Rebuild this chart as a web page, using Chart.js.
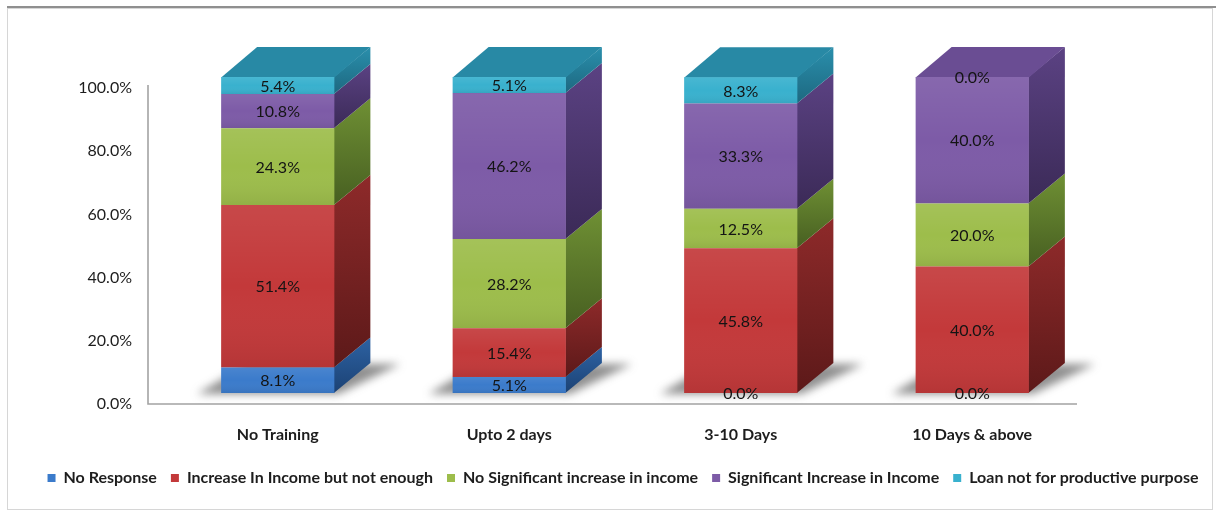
<!DOCTYPE html>
<html>
<head>
<meta charset="utf-8">
<script src="https://cdn.jsdelivr.net/npm/chart.js@4.4.1/dist/chart.umd.min.js"></script>
<style>
  html, body { margin: 0; padding: 0; background: #fff; }
  #wrap { width: 1216px; height: 517px; position: relative; }
</style>
</head>
<body>
<div id="wrap"><canvas id="chart" width="1216" height="517"></canvas></div>
<script>
// Training duration groups
const categories = ['No Training', 'Upto 2 days', '3-10 Days', '10 Days & above'];

// Series names (bottom of stack to top)
const seriesNames = [
  'No Response',
  'Increase In Income but not enough',
  'No Significant increase in income',
  'Significant Increase in Income',
  'Loan not for productive purpose'
];

// Percentage share of respondents per group
const noResponse        = [8.1, 5.1, 0.0, 0.0];
const increaseNotEnough = [51.4, 15.4, 45.8, 40.0];
const noSignificant     = [24.3, 28.2, 12.5, 20.0];
const significant       = [10.8, 46.2, 33.3, 40.0];
const loanNotProductive = [5.4, 5.1, 8.3, 0.0];

// Value axis ticks
const yTickValues = [0, 20, 40, 60, 80, 100];

const seriesValues = [noResponse, increaseNotEnough, noSignificant, significant, loanNotProductive];

// Face colours for the extruded bars
const frontColors = ['#3b7bcb', '#c3393a', '#9dbd4b', '#7d5ba7', '#39b1ce'];
const sideColors = [
  ['#2d62a3', '#1c4274'],
  ['#8e2a2a', '#5c1919'],
  ['#6f9034', '#475f21'],
  ['#5b4283', '#3b2a57'],
  ['#2a8fac', '#1d6880']
];
const topColors = ['#3069b0', '#a53132', '#86a43e', '#6a4d93', '#2889a5'];

// Depth of the extrusion (right and up)
const DX = 36, DY = -30;

const FONT = 'Lato, "Open Sans", "DejaVu Sans", sans-serif';

function barGeom(el) {
  const p = el.getProps(['x', 'y', 'base', 'width'], true);
  const top = Math.min(p.y, p.base), bottom = Math.max(p.y, p.base);
  return { L: p.x - p.width / 2, R: p.x + p.width / 2, x: p.x, top, bottom };
}

const framePlugin = {
  id: 'frame',
  beforeDraw(chart) {
    const ctx = chart.ctx;
    ctx.save();
    ctx.fillStyle = '#ffffff';
    ctx.fillRect(0, 0, chart.width, chart.height);
    ctx.strokeStyle = '#d6d6d6';
    ctx.lineWidth = 1;
    ctx.strokeRect(7.5, 8.5, 1205, 501);
    ctx.strokeStyle = '#8f8f8f';
    ctx.lineWidth = 2;
    ctx.beginPath();
    ctx.moveTo(7, 7);
    ctx.lineTo(chart.width, 7);
    ctx.stroke();
    ctx.restore();
  }
};

const axisLinesPlugin = {
  id: 'axisLines',
  beforeDatasetsDraw(chart) {
    const { ctx, chartArea: a } = chart;
    ctx.save();
    ctx.strokeStyle = '#a3a3a3';
    ctx.lineWidth = 1.6;
    ctx.beginPath();
    ctx.moveTo(a.left - 14, a.top + 8);
    ctx.lineTo(a.left - 14, a.bottom + 11);
    ctx.lineTo(a.right - 11, a.bottom + 11);
    ctx.stroke();
    ctx.restore();
  }
};

const extrudePlugin = {
  id: 'extrude',
  beforeDatasetsDraw(chart) {
    const ctx = chart.ctx;
    const metas = chart.data.datasets.map((d, i) => chart.getDatasetMeta(i));
    const n = chart.data.labels.length;
    const zeroY = chart.scales.y.getPixelForValue(0);

    // floor shadows
    for (let j = 0; j < n; j++) {
      const g = barGeom(metas[0].data[j]);
      const B = zeroY;
      ctx.save();
      ctx.filter = 'blur(4px)';
      ctx.fillStyle = 'rgba(70,70,70,0.6)';
      ctx.beginPath();
      ctx.moveTo(g.L - 24, B + 1);
      ctx.lineTo(g.R + 4, B + 1);
      ctx.lineTo(g.R + DX + 30, B + DY + 1);
      ctx.lineTo(g.L + DX - 10, B + DY + 1);
      ctx.closePath();
      ctx.fill();
      ctx.restore();
    }

    // side faces
    metas.forEach((meta, k) => {
      meta.data.forEach((el, j) => {
        const v = chart.data.datasets[k].data[j];
        if (!v) return;
        const g = barGeom(el);
        const grad = ctx.createLinearGradient(0, g.top + DY, 0, g.bottom);
        grad.addColorStop(0, sideColors[k][0]);
        grad.addColorStop(1, sideColors[k][1]);
        ctx.save();
        ctx.fillStyle = grad;
        ctx.beginPath();
        ctx.moveTo(g.R - 0.5, g.top);
        ctx.lineTo(g.R + DX, g.top + DY);
        ctx.lineTo(g.R + DX, g.bottom + DY);
        ctx.lineTo(g.R - 0.5, g.bottom);
        ctx.closePath();
        ctx.fill();
        ctx.restore();
      });
    });

    // top face of each stack
    for (let j = 0; j < n; j++) {
      let k = metas.length - 1;
      while (k > 0 && !chart.data.datasets[k].data[j]) k--;
      const g = barGeom(metas[k].data[j]);
      ctx.save();
      ctx.fillStyle = topColors[k];
      ctx.beginPath();
      ctx.moveTo(g.L, g.top + 0.5);
      ctx.lineTo(g.L + DX, g.top + DY);
      ctx.lineTo(g.R + DX, g.top + DY);
      ctx.lineTo(g.R, g.top + 0.5);
      ctx.closePath();
      ctx.fill();
      ctx.restore();
    }
  },
  afterDatasetsDraw(chart) {
    const ctx = chart.ctx;
    chart.data.datasets.forEach((ds, k) => {
      const meta = chart.getDatasetMeta(k);
      meta.data.forEach((el, j) => {
        const g = barGeom(el);
        const h = g.bottom - g.top;
        if (h > 1) {
          const grad = ctx.createLinearGradient(0, g.top, 0, g.bottom);
          grad.addColorStop(0, 'rgba(255,255,255,0.08)');
          grad.addColorStop(0.5, 'rgba(255,255,255,0)');
          grad.addColorStop(1, 'rgba(0,0,0,0.07)');
          ctx.save();
          ctx.fillStyle = grad;
          ctx.fillRect(g.L, g.top, g.R - g.L, h);
          ctx.restore();
        }
      });
    });
    // value labels
    ctx.save();
    ctx.font = '16px ' + FONT;
    ctx.fillStyle = '#141414';
    ctx.textAlign = 'center';
    ctx.textBaseline = 'middle';
    chart.data.datasets.forEach((ds, k) => {
      const meta = chart.getDatasetMeta(k);
      meta.data.forEach((el, j) => {
        const g = barGeom(el);
        ctx.fillText(ds.data[j].toFixed(1) + '%', g.x, (g.top + g.bottom) / 2 + 1);
      });
    });
    ctx.restore();
  }
};

const datasets = seriesNames.map((name, k) => ({
  label: name,
  data: seriesValues[k],
  backgroundColor: frontColors[k],
  borderWidth: 0,
  barPercentage: 0.489,
  categoryPercentage: 1.0
}));

new Chart(document.getElementById('chart'), {
  type: 'bar',
  data: { labels: categories, datasets },
  plugins: [framePlugin, axisLinesPlugin, extrudePlugin],
  options: {
    responsive: false,
    animation: false,
    devicePixelRatio: 1,
    layout: { padding: { top: 77, left: 30, right: 0, bottom: 21 } },
    plugins: {
      tooltip: { enabled: false },
      legend: {
        position: 'bottom',
        labels: {
          boxWidth: 8,
          boxHeight: 8,
          padding: 14,
          color: '#1d1d1d',
          font: { family: FONT, size: 16, weight: 'bold' }
        }
      }
    },
    scales: {
      x: {
        stacked: true,
        offset: true,
        grid: { display: false, drawTicks: false },
        border: { display: false },
        ticks: {
          color: '#1d1d1d',
          padding: 32,
          font: { family: FONT, size: 16, weight: 'bold' }
        },
        afterFit(scale) { scale.height = 63; }
      },
      y: {
        stacked: true,
        min: 0,
        max: 100,
        grid: { display: false, drawTicks: false },
        border: { display: false },
        afterBuildTicks(scale) { scale.ticks = yTickValues.map(v => ({ value: v })); },
        ticks: {
          color: '#1d1d1d',
          padding: 30,
          labelOffset: 11,
          font: { family: FONT, size: 16 },
          callback: v => Number(v).toFixed(1) + '%'
        },
        afterFit(scale) { scale.width = 132; }
      },
      yRight: {
        type: 'linear',
        position: 'right',
        grid: { display: false, drawTicks: false },
        border: { display: false },
        ticks: { display: false },
        afterFit(scale) { scale.width = 128; }
      }
    }
  }
});
</script>
</body>
</html>
